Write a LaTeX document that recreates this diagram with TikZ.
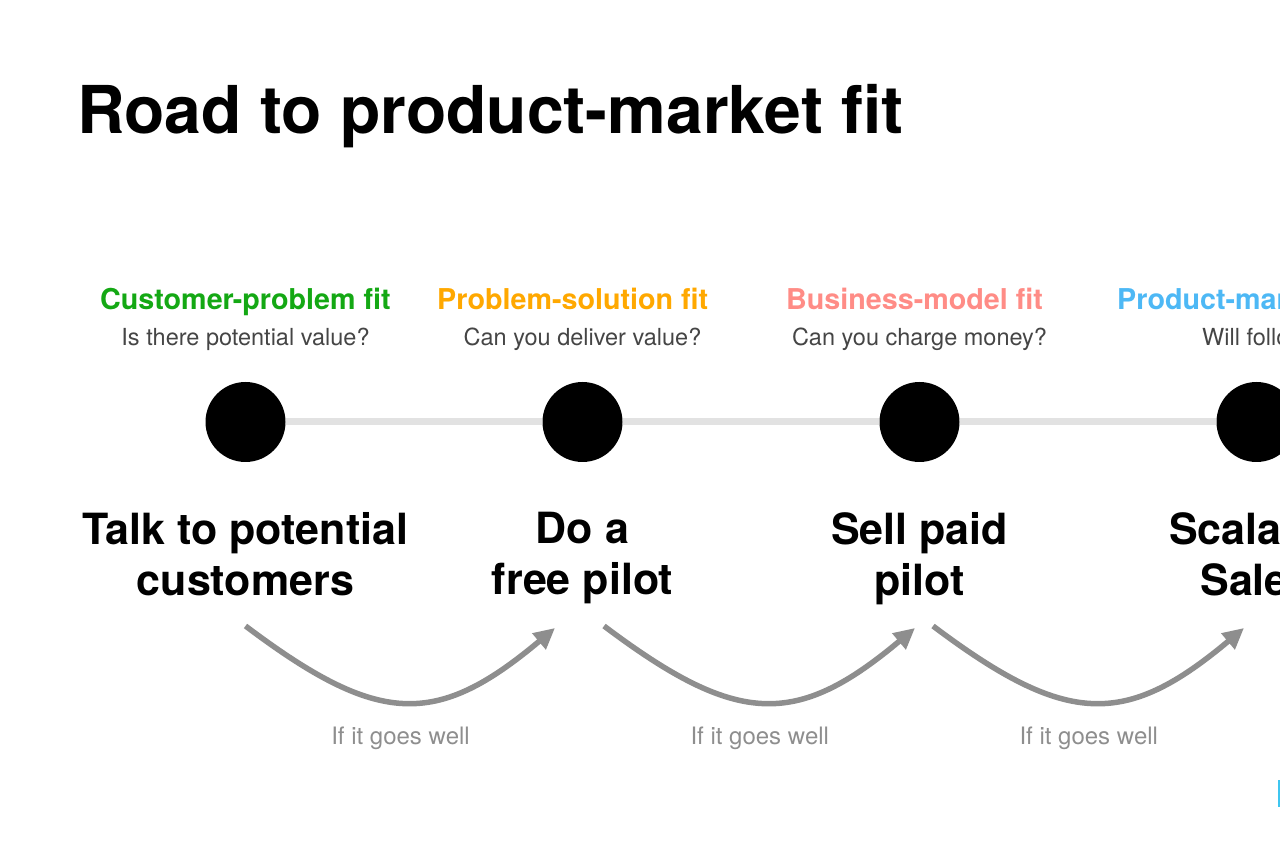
\documentclass[tikz,border=0pt]{standalone}
\usepackage{fontspec}
\setmainfont{TeX Gyre Heros}
\usepackage{xcolor}
\usepackage{tikz}
\usetikzlibrary{arrows.meta, positioning, calc}

\definecolor{cpgreen}{HTML}{14A814}
\definecolor{psorange}{HTML}{FFA800}
\definecolor{bmsalmon}{HTML}{FF8C86}
\definecolor{pmblue}{HTML}{4DB8F5}
\definecolor{askgray}{HTML}{454545}
\definecolor{flowgray}{HTML}{8E8E8E}
\definecolor{trackgray}{HTML}{E2E2E2}
\definecolor{edgecyan}{HTML}{3FC6F0}

\begin{document}
\begin{tikzpicture}[
            x=1pt, y=1pt,
            dot/.style={circle, fill=black, inner sep=0pt, minimum size=80pt},
            fitlabel/.style={anchor=base west, inner sep=0pt, font=\fontsize{28.7}{32}\selectfont\bfseries},
            ask/.style={inner sep=0pt, text=askgray, font=\fontsize{23.5}{28}\selectfont},
            stepname/.style={anchor=north, inner sep=0pt, align=center, font=\fontsize{43}{51}\selectfont\bfseries},
            track/.style={draw=trackgray, line width=7pt},
            flow/.style={draw=flowgray, line width=5.5pt, -{Triangle[length=21pt, width=20pt]}},
            goes/.style={inner sep=0pt, text=flowgray, font=\fontsize{24}{28}\selectfont}
        ]
        \useasboundingbox (0,0) rectangle (1280,853);
        \clip (0,0) rectangle (1280,853);

        % --- Title ---
        \node[anchor=base west, inner sep=0pt, font=\fontsize{66}{72}\selectfont\bfseries] (title) at (77,719) {Road to product-market fit};

        % --- Milestones ---
        \node[dot] (c1) at (245.5,431) {};
        \node[dot] (c2) at (582.5,431) {};
        \node[dot] (c3) at (919.5,431) {};
        \node[dot] (c4) at (1256.5,431) {};

        \draw[track] (c1) -- (c2);
        \draw[track] (c2) -- (c3);
        \draw[track] (c3) -- (c4);

        % --- Fit labels and questions ---
        \node[fitlabel, text=cpgreen] (f1) at ($(c1)+(-145.5,112)$) {Customer-problem fit};
        \node[fitlabel, text=psorange] (f2) at ($(c2)+(-145.5,112)$) {Problem-solution fit};
        \node[fitlabel, text=bmsalmon] (f3) at ($(c3)+(-133.5,112)$) {Business-model fit};
        \node[fitlabel, text=pmblue] (f4) at ($(c4)+(-139.5,112)$) {Product-market fit};

        \node[ask, anchor=base] (q1) at ($(c1)+(0,76)$) {Is there potential value?};
        \node[ask, anchor=base] (q2) at ($(c2)+(0,76)$) {Can you deliver value?};
        \node[ask, anchor=base] (q3) at ($(c3)+(0,76)$) {Can you charge money?};
        \node[ask, anchor=base west] (q4) at ($(c4)+(-54.5,76)$) {Will follow};

        % --- Steps ---
        \node[stepname, below=50pt of c1] (s1) {Talk to potential\\customers};
        \node[stepname, below=50pt of c2] (s2) {Do a\\free pilot};
        \node[stepname, below=50pt of c3] (s3) {Sell paid\\pilot};
        \node[stepname, below=50pt of c4] (s4) {Scalable\\Sales};

        % --- If it goes well ---
        \draw[flow] ([shift={(0,-204)}]c1.center) .. controls +(133,-100) and +(-119,-100) .. node[goes, pos=.5, anchor=base, xshift=-5pt, yshift=-43pt] (g1) {If it goes well} ([shift={(-27.5,-206)}]c2.center);
        \draw[flow] ([shift={(21.5,-204)}]c2.center) .. controls +(133,-100) and +(-119,-100) .. node[goes, pos=.5, anchor=base, xshift=-5pt, yshift=-43pt] (g2) {If it goes well} ([shift={(-4.5,-206)}]c3.center);
        \draw[flow] ([shift={(13.5,-204)}]c3.center) .. controls +(133,-100) and +(-119,-100) .. node[goes, pos=.5, anchor=base, xshift=-5pt, yshift=-43pt] (g3) {If it goes well} ([shift={(-12.5,-206)}]c4.center);

        % --- cut-off mark at the edge ---
        \fill[edgecyan] (1278,46) rectangle (1290,73);

\end{tikzpicture}
\end{document}
